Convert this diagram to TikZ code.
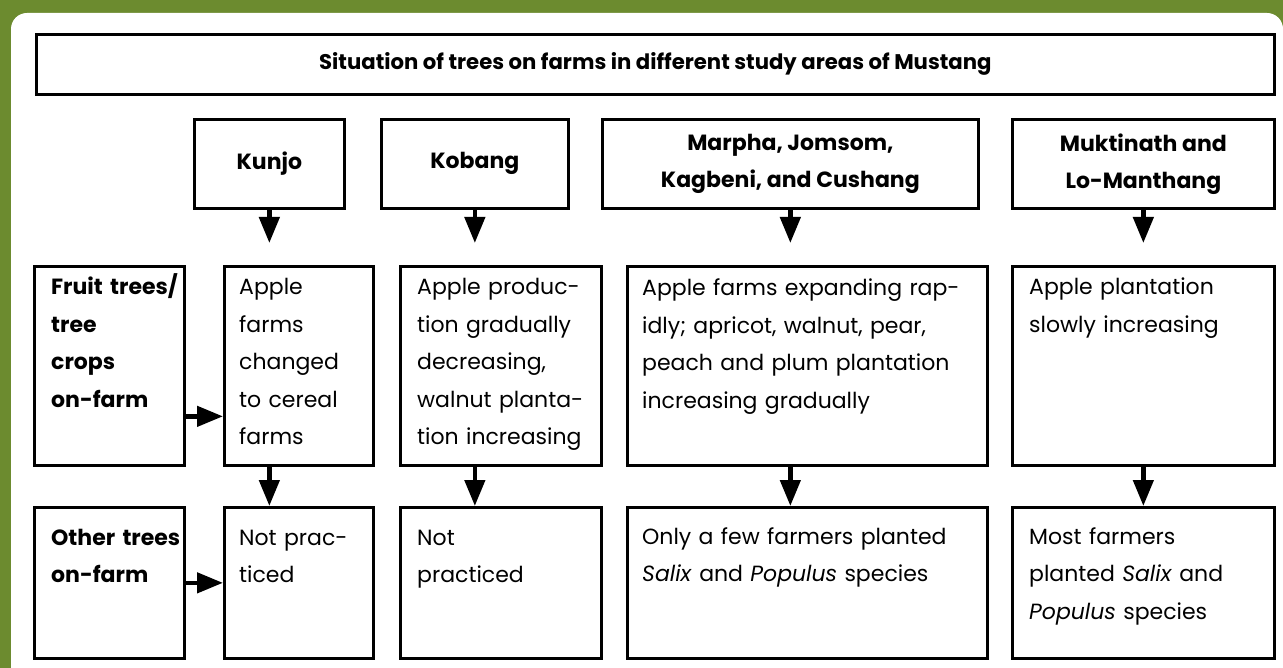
\documentclass[tikz,border=0pt]{standalone}
\usepackage{fontspec}
\setmainfont{Poppins}
\usetikzlibrary{calc,arrows.meta,positioning}
\definecolor{mustanggreen}{HTML}{6C8B2F}
\newcommand{\cellfont}{\fontsize{22}{37.5}\selectfont}
\newcommand{\headfont}{\fontsize{22}{37}\selectfont\bfseries}
\newcommand{\titlefont}{\fontsize{21.2}{24}\selectfont\bfseries}
\tikzset{
	% ------- every something
	every picture/.style={
		x=1pt, y=-1pt,
	},
	every node/.style={
		font=\cellfont,
	},
	% ------- custom
	frame/.style={
		draw, line width=2.7pt, rectangle, inner sep=0pt,
		anchor=north west,
	},
	cell text/.style={
		anchor=base west, inner sep=0pt, align=left,
	},
	head text/.style={
		inner sep=0pt, align=center, font=\headfont,
	},
	flow/.style={
		line width=4.5pt,
		-{Triangle[length=26pt, width=20pt]},
	},
}

\begin{document}
\begin{tikzpicture}

% background %{{{2

	\useasboundingbox (0,0) rectangle (1283,668);
	\fill[mustanggreen] (0,0) rectangle (1283,668);
	\fill[white, rounded corners=16pt] (11,668) |- (1283,13) [sharp corners] -- (1283,668) -- cycle;

% title %{{{2

	\node[frame, minimum width=1238pt, minimum height=60pt] (title) at (35,33) {};
	\node[font=\titlefont] at (title.center) {Situation of trees on farms in different study areas of Mustang};

% study areas %{{{2

	\node[frame, minimum width=150pt, minimum height=89pt] (hKunjo) at (193,118) {};
	\node[frame, minimum width=187pt, minimum height=89pt] (hKobang) at (380,118) {};
	\node[frame, minimum width=376pt, minimum height=89pt] (hMarpha) at (601,118) {};
	\node[frame, minimum width=262pt, minimum height=89pt] (hMuktinath) at (1011,118) {};

	\node[head text] at (hKunjo.center) {Kunjo};
	\node[head text] at (hKobang.center) {Kobang};
	\node[head text] at (hMarpha.center) {Marpha, Jomsom,\\Kagbeni, and Cushang};
	\node[head text] at (hMuktinath.center) {Muktinath and\\Lo-Manthang};

% fruit trees row %{{{2

	\node[frame, minimum width=150pt, minimum height=199pt] (lFruit) at (33,265) {};
	\node[frame, minimum width=149pt, minimum height=199pt] (fKunjo) at (223,265) {};
	\node[frame, minimum width=201pt, minimum height=199pt] (fKobang) at (399,265) {};
	\node[frame, minimum width=360pt, minimum height=199pt] (fMarpha) at (626,265) {};
	\node[frame, minimum width=262pt, minimum height=199pt] (fMuktinath) at (1011,265) {};

	\node[cell text, font=\cellfont\bfseries, text width=130pt] at ([shift={(18,30)}]lFruit.north west)
		{Fruit trees/\\tree\\crops\\on-farm};
	\node[cell text, text width=130pt] at ([shift={(16,30)}]fKunjo.north west)
		{Apple\\farms\\changed\\to cereal\\farms};
	\node[cell text, text width=180pt] at ([shift={(18,30)}]fKobang.north west)
		{Apple produc-\\tion gradually\\decreasing,\\walnut planta-\\tion increasing};
	\node[cell text, text width=340pt] at ([shift={(16,31)}]fMarpha.north west)
		{Apple farms expanding rap-\\idly; apricot, walnut, pear,\\peach and plum plantation\\increasing gradually};
	\node[cell text, text width=240pt] at ([shift={(18,30)}]fMuktinath.north west)
		{Apple plantation\\slowly increasing};

% other trees row %{{{2

	\node[frame, minimum width=150pt, minimum height=151pt] (lOther) at (33,506) {};
	\node[frame, minimum width=149pt, minimum height=151pt] (oKunjo) at (223,506) {};
	\node[frame, minimum width=201pt, minimum height=151pt] (oKobang) at (399,506) {};
	\node[frame, minimum width=360pt, minimum height=151pt] (oMarpha) at (626,506) {};
	\node[frame, minimum width=262pt, minimum height=151pt] (oMuktinath) at (1011,506) {};

	\node[cell text, font=\cellfont\bfseries, text width=130pt] at ([shift={(18,39)}]lOther.north west)
		{Other trees\\on-farm};
	\node[cell text, text width=130pt] at ([shift={(16,39)}]oKunjo.north west)
		{Not prac-\\ticed};
	\node[cell text, text width=180pt] at ([shift={(18,39)}]oKobang.north west)
		{Not\\practiced};
	\node[cell text, text width=340pt] at ([shift={(16,38)}]oMarpha.north west)
		{Only a few farmers planted\\\textit{Salix} and \textit{Populus} species};
	\node[cell text, text width=240pt] at ([shift={(18,38)}]oMuktinath.north west)
		{Most farmers\\planted \textit{Salix} and\\\textit{Populus} species};

% arrows %{{{2

	\foreach \area in {Kunjo, Kobang, Marpha, Muktinath} {
		\draw[flow, shorten >=22pt] (h\area.south) -- (h\area.south |- f\area.north);
		\draw[flow] (h\area.south |- f\area.south) -- (h\area.south |- o\area.north);
	}

	\draw[flow] ([yshift=-50.5pt]lFruit.east) -- ([yshift=-50.5pt]lFruit.east -| fKunjo.west);
	\draw[flow] (lOther.east) -- (lOther.east -| oKunjo.west);

\end{tikzpicture}
\end{document}
